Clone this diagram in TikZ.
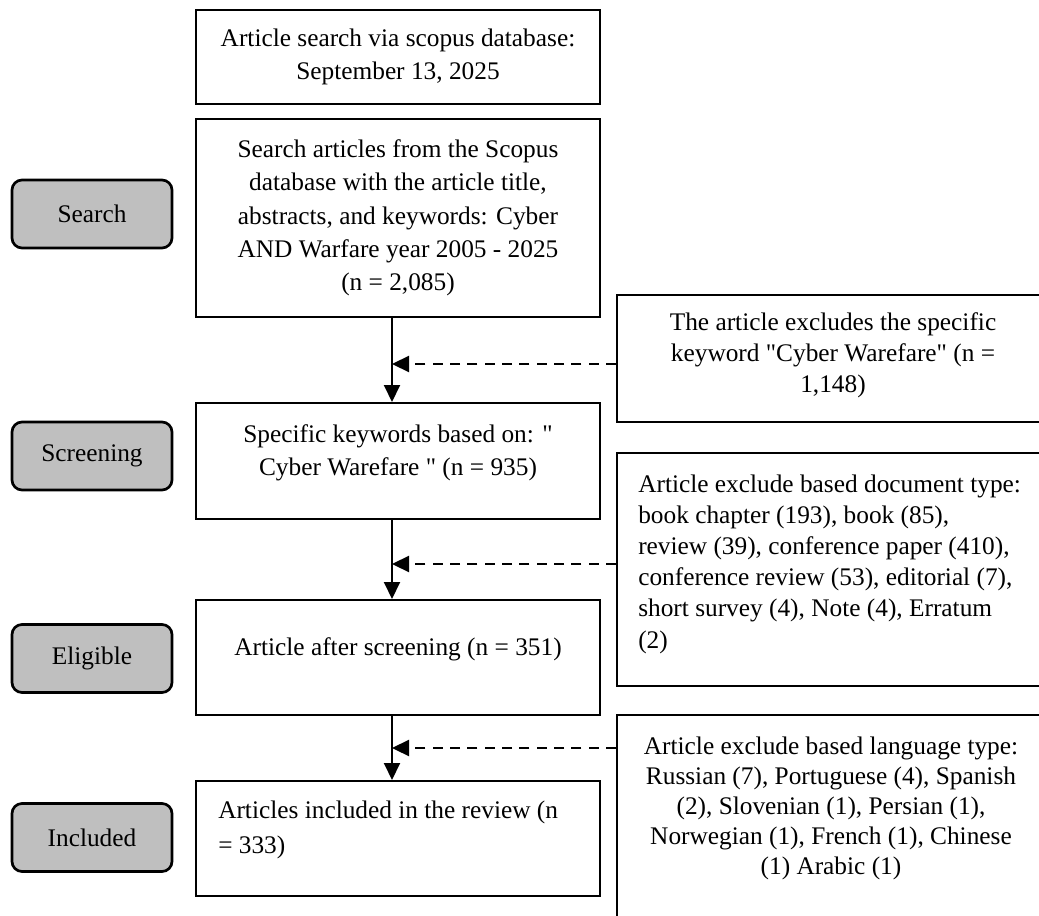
\documentclass[tikz,border=0pt]{standalone}
\usepackage{fontspec}
\newfontfamily\plainserif{Liberation Serif}
\usetikzlibrary{arrows.meta}
\definecolor{pillgray}{HTML}{BFBFBF}
\newcommand{\fsz}[1]{\plainserif\fontsize{19pt}{#1}\selectfont}
\begin{document}
\begin{tikzpicture}[x=0.75pt,y=-0.75pt,
  box/.style={draw, line width=1.5pt, minimum width=303pt, inner sep=0pt, align=center},
  exbox/.style={draw, line width=1.5pt, minimum width=332.25pt, inner sep=0pt},
  phase/.style={draw, line width=2pt, fill=pillgray, rounded corners=7.5pt,
    minimum width=120pt, minimum height=51pt, inner sep=0pt, font=\fsz{24pt}},
  txt/.style={inner sep=0pt, align=center},
  flow/.style={line width=1.5pt, -{Triangle[length=12.75pt,width=12pt]}},
  exarrow/.style={line width=1.7pt, dash pattern=on 7.5pt off 5.5pt,
    -{Triangle[length=12.75pt,width=12pt]}}]
\useasboundingbox (0,0) rectangle (1039,916);
\clip (0,0) rectangle (1039,916);
\fill[white] (0,0) rectangle (1039,916);

% phase labels
\node[phase] (pSearch) at (92,214) {Search};
\node[phase] (pScreen) at (92,456) {Screening};
\node[phase] (pElig) at (92,658.5) {Eligible};
\node[phase] (pIncl) at (92,837.5) {Included};

% main boxes
\node[box, minimum height=70.5pt, font=\fsz{24.75pt}] (b1) at (398,57)
  {Article search via scopus database:\\September 13, 2025};
\node[box, minimum height=148.5pt, font=\fsz{25pt}] (b2) at (398,218)
  {Search articles from the Scopus\\database with the article title,\\abstracts, and keywords: Cyber\\AND Warfare year 2005 - 2025\\(n = 2,085)};
\node[box, minimum height=87pt] (b3) at (398,461) {};
\node[txt, font=\fsz{24.75pt}] (t3) at (398,452.5)
  {Specific keywords based on: "\\Cyber Warefare " (n = 935)};
\node[box, minimum height=86.25pt] (b4) at (398,657.5) {};
\node[txt, font=\fsz{24.75pt}] (t4) at (398,649) {Article after screening (n = 351)};
\node[box, minimum height=86.25pt] (b5) at (398,838.5) {};
\node[txt, align=left, anchor=west, font=\fsz{26.25pt}] (t5) at (218,829.5)
  {Articles included in the review (n\\= 333)};

% exclusion boxes
\node[exbox, minimum height=94.5pt] (e1) at (838.5,358.5) {};
\node[txt, font=\fsz{23.25pt}] (te1) at (833,355)
  {The article excludes the specific\\keyword "Cyber Warefare" (n =\\1,148)};
\node[exbox, minimum height=174.75pt] (e2) at (838.5,569.5) {};
\node[txt, align=left, anchor=west, font=\fsz{23.4pt}] (te2) at (638,564)
  {Article exclude based document type:\\book chapter (193), book (85),\\review (39), conference paper (410),\\conference review (53), editorial (7),\\short survey (4), Note (4), Erratum\\(2)};
\node[exbox, minimum height=168pt] (e3) at (838.5,827) {};
\node[txt, font=\fsz{22.5pt}] (te3) at (831,808)
  {Article exclude based language type:\\Russian (7), Portuguese (4), Spanish\\(2), Slovenian (1), Persian (1),\\Norwegian (1), French (1), Chinese\\(1) Arabic (1)};

% junction points on the main flow line
\coordinate (ax) at (392,0);
\coordinate (j1) at (392,364);
\coordinate (j2) at (392,564);
\coordinate (j3) at (392,748);

% main flow
\draw[flow] (b2.south -| ax) -- (b3.north -| ax);
\draw[flow] (b3.south -| ax) -- (b4.north -| ax);
\draw[flow] (b4.south -| ax) -- (b5.north -| ax);

% exclusion arrows
\draw[exarrow] (e1.west |- j1) -- (j1);
\draw[exarrow] (e2.west |- j2) -- (j2);
\draw[exarrow] (e3.west |- j3) -- (j3);
\end{tikzpicture}
\end{document}
